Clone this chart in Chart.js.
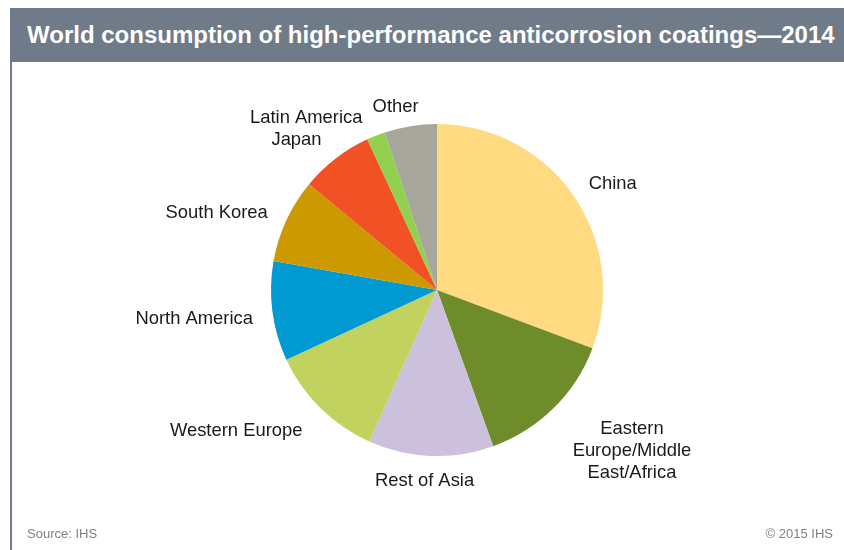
<!DOCTYPE html>
<html>
<head>
<meta charset="utf-8">
<script src="https://cdn.jsdelivr.net/npm/chart.js@4"></script>
<style>
  html, body { margin: 0; padding: 0; background: #fff; }
  body { width: 844px; height: 550px; position: relative; overflow: hidden; font-family: "Liberation Sans", Arial, sans-serif; }
  #header { position: absolute; left: 10px; top: 8px; width: 834px; height: 54px; background: #6f7b88; }
  #header h1 { margin: 0; position: absolute; left: 17px; top: 0; line-height: 54px; font-size: 24px; font-weight: bold; color: #fff; white-space: nowrap; }
  #rule { position: absolute; left: 10px; top: 62px; width: 2px; height: 488px; background: #6f7b88; }
  .foot { position: absolute; top: 526px; font-size: 13px; color: #808080; }
  #wrap { position: absolute; left: 0; top: 0; width: 844px; height: 550px; }
</style>
</head>
<body>
<div id="wrap"><canvas id="myChart"></canvas></div>
<div id="header"><h1>World consumption of high-performance anticorrosion coatings—2014</h1></div>
<div id="rule"></div>
<div class="foot" style="left:27px">Source: IHS</div>
<div class="foot" style="right:11px">© 2015 IHS</div>
<script>
const ctx = document.getElementById('myChart').getContext('2d');

// share of world consumption, %
const regions = [
  'China', 'Eastern Europe/Middle East/Africa', 'Rest of Asia', 'Western Europe',
  'North America', 'South Korea', 'Japan', 'Latin America', 'Other'
];
const shares = [30.7, 13.8, 12.2, 11.4, 9.7, 8.2, 7.1, 1.8, 5.1];
const colors = [
  '#ffda80', '#6f8c2b', '#ccc1dc', '#c1d25e',
  '#0099d1', '#cc9a00', '#f15124', '#92d050', '#a6a69b'
];
// label text lines (wrapped like the original)
const labelLines = [
  ['China'], ['Eastern', 'Europe/Middle', 'East/Africa'], ['Rest of Asia'], ['Western Europe'],
  ['North America'], ['South Korea'], ['Japan'], ['Latin America'], ['Other']
];
// small nudges so labels sit where the original put them
const labelNudge = [
  [13, -2], [31, 15], [-4, 8], [-32, 11], [-12, 5], [-16, 0], [-19, -5], [-46, -2], [-10, -2]
];

const outsideLabels = {
  id: 'outsideLabels',
  afterDatasetsDraw(chart) {
    const c = chart.ctx;
    const arcs = chart.getDatasetMeta(0).data;
    c.save();
    c.font = '18.4px "Liberation Sans", Arial, sans-serif';
    c.fillStyle = '#1a1a1a';
    c.textAlign = 'center';
    c.textBaseline = 'middle';
    const lh = 22;
    arcs.forEach((arc, i) => {
      const p = arc.getProps(['x', 'y', 'startAngle', 'endAngle', 'outerRadius'], true);
      const mid = (p.startAngle + p.endAngle) / 2;
      const ux = Math.cos(mid), uy = Math.sin(mid);
      const lines = labelLines[i];
      const w = Math.max(...lines.map(l => c.measureText(l).width));
      const h = lines.length * lh - 4;
      const d = p.outerRadius + 8;
      const cx = p.x + ux * d + ux * w / 2 + labelNudge[i][0];
      const cy = p.y + uy * d + uy * h / 2 + labelNudge[i][1];
      lines.forEach((l, k) => {
        c.fillText(l, cx, cy + (k - (lines.length - 1) / 2) * lh);
      });
    });
    c.restore();
  }
};

const config = {
  type: 'pie',
  data: {
    labels: regions,
    datasets: [{
      data: shares,
      backgroundColor: colors,
      borderWidth: 0,
    }]
  },
  options: {
    responsive: true,
    maintainAspectRatio: false,
    animation: false,
    radius: 166,
    layout: { padding: { left: 30, top: 30 } },
    plugins: {
      legend: { display: false },
      tooltip: { enabled: false }
    }
  },
  plugins: [outsideLabels]
};

const myChart = new Chart(ctx, config);
</script>
</body>
</html>
